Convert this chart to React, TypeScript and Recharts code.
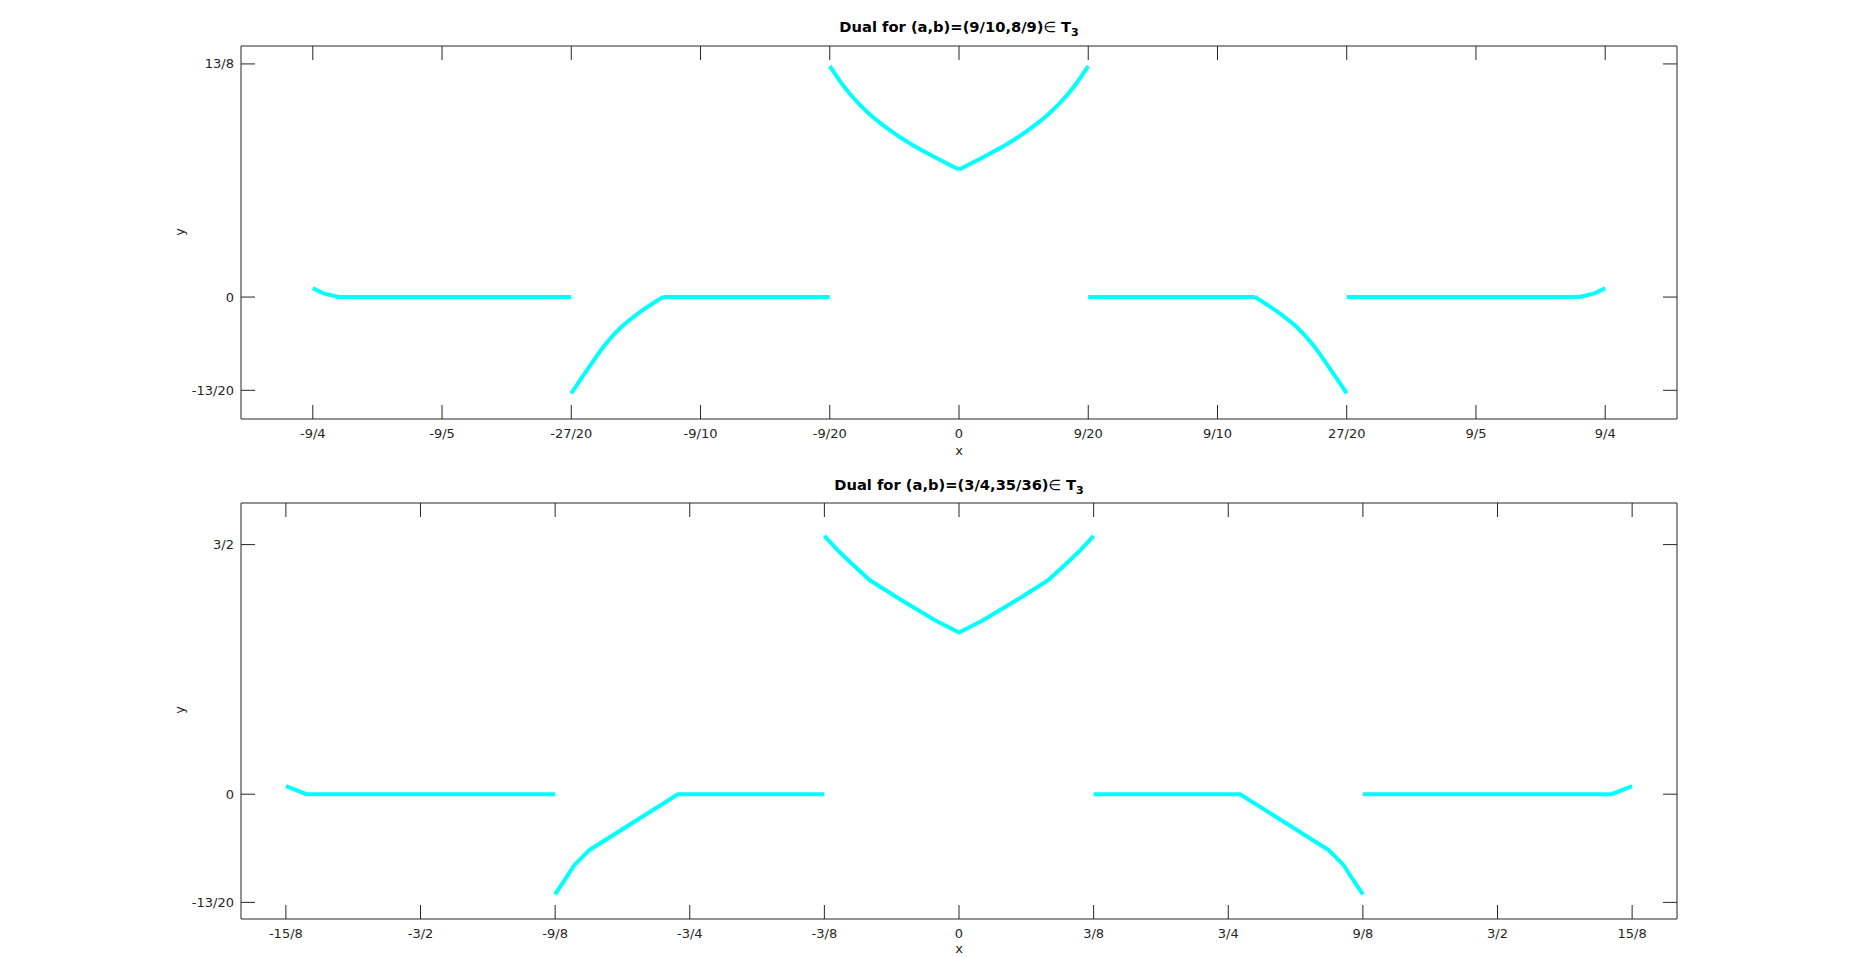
import { Line, LineChart, XAxis, YAxis } from "recharts";

const CYAN = "#00ffff";
const INK = "#262626";
const FONT = "'DejaVu Sans', sans-serif";
const TICK_LEN = 14;

type Pt = { x: number; y: number };
type Seg = { pts: Pt[]; curve: "linear" | "monotone" };

// ---- top panel: (a,b) = (9/10, 8/9) ----
const topTitle = "Dual for (a,b)=(9/10,8/9)";
const topXTicks = [-2.25, -1.8, -1.35, -0.9, -0.45, 0, 0.45, 0.9, 1.35, 1.8, 2.25];
const topXLabels = ["-9/4", "-9/5", "-27/20", "-9/10", "-9/20", "0", "9/20", "9/10", "27/20", "9/5", "9/4"];
const topYTicks = [-0.65, 0, 1.625];
const topYLabels = ["-13/20", "0", "13/8"];

const topOuterLeft: Pt[] = [
  { x: -2.25, y: 0.061 }, { x: -2.213, y: 0.026 }, { x: -2.16, y: 0 }, { x: -1.35, y: 0 },
];
const topCurveLeft: Pt[] = [
  { x: -1.35, y: -0.671 }, { x: -1.291, y: -0.497 }, { x: -1.233, y: -0.334 },
  { x: -1.175, y: -0.207 }, { x: -1.117, y: -0.114 }, { x: -1.03, y: 0 },
];
const topFlatLeft: Pt[] = [{ x: -1.03, y: 0 }, { x: -0.45, y: 0 }];
const topCenterLeft: Pt[] = [
  { x: -0.45, y: 1.61 }, { x: -0.407, y: 1.485 }, { x: -0.375, y: 1.405 }, { x: -0.317, y: 1.285 },
  { x: -0.247, y: 1.172 }, { x: -0.165, y: 1.063 }, { x: -0.084, y: 0.975 }, { x: 0, y: 0.889 },
];
const topCenterRight: Pt[] = [
  { x: 0, y: 0.889 }, { x: 0.084, y: 0.975 }, { x: 0.165, y: 1.063 }, { x: 0.247, y: 1.172 },
  { x: 0.317, y: 1.285 }, { x: 0.375, y: 1.405 }, { x: 0.407, y: 1.485 }, { x: 0.45, y: 1.61 },
];
const topFlatRight: Pt[] = [{ x: 0.45, y: 0 }, { x: 1.03, y: 0 }];
const topCurveRight: Pt[] = [
  { x: 1.03, y: 0 }, { x: 1.117, y: -0.114 }, { x: 1.175, y: -0.207 },
  { x: 1.233, y: -0.334 }, { x: 1.291, y: -0.497 }, { x: 1.35, y: -0.671 },
];
const topOuterRight: Pt[] = [
  { x: 1.35, y: 0 }, { x: 2.16, y: 0 }, { x: 2.213, y: 0.026 }, { x: 2.25, y: 0.061 },
];

// ---- bottom panel: (a,b) = (3/4, 35/36) ----
const botTitle = "Dual for (a,b)=(3/4,35/36)";
const botXTicks = [-1.875, -1.5, -1.125, -0.75, -0.375, 0, 0.375, 0.75, 1.125, 1.5, 1.875];
const botXLabels = ["-15/8", "-3/2", "-9/8", "-3/4", "-3/8", "0", "3/8", "3/4", "9/8", "3/2", "15/8"];
const botYTicks = [-0.65, 0, 1.5];
const botYLabels = ["-13/20", "0", "3/2"];

const botOuterLeft: Pt[] = [
  { x: -1.875, y: 0.049 }, { x: -1.818, y: 0 }, { x: -1.125, y: 0 },
];
const botInnerLeft: Pt[] = [
  { x: -1.125, y: -0.602 }, { x: -1.095, y: -0.505 }, { x: -1.071, y: -0.425 }, { x: -1.029, y: -0.335 },
  { x: -0.783, y: 0 }, { x: -0.375, y: 0 },
];
const botCenter: Pt[] = [
  { x: -0.375, y: 1.552 }, { x: -0.335, y: 1.46 }, { x: -0.3, y: 1.388 }, { x: -0.249, y: 1.287 },
  { x: -0.161, y: 1.167 }, { x: -0.068, y: 1.047 }, { x: 0, y: 0.972 }, { x: 0.068, y: 1.047 },
  { x: 0.161, y: 1.167 }, { x: 0.249, y: 1.287 }, { x: 0.3, y: 1.388 }, { x: 0.335, y: 1.46 },
  { x: 0.375, y: 1.552 },
];
const botInnerRight: Pt[] = [
  { x: 0.375, y: 0 }, { x: 0.783, y: 0 }, { x: 1.029, y: -0.335 },
  { x: 1.071, y: -0.425 }, { x: 1.095, y: -0.505 }, { x: 1.125, y: -0.602 },
];
const botOuterRight: Pt[] = [
  { x: 1.125, y: 0 }, { x: 1.818, y: 0 }, { x: 1.875, y: 0.049 },
];

type TickProps = { x?: number; y?: number; payload?: { value?: number } };

/** Octave-style ticks: the mark points into the plot box, the label sits outside. */
function makeTick(side: "bottom" | "top" | "left" | "right", ticks: number[], labels: string[]) {
  return function Tick(props: TickProps) {
    const { x = 0, y = 0, payload } = props;
    const label = labels[ticks.indexOf(payload?.value ?? NaN)] ?? "";
    if (side === "bottom")
      return (
        <g>
          <line x1={x} x2={x} y1={y} y2={y - TICK_LEN} stroke={INK} />
          <text x={x} y={y + 14} textAnchor="middle" dominantBaseline="central" fontSize={13} fill={INK} fontFamily={FONT}>
            {label}
          </text>
        </g>
      );
    if (side === "top") return <line x1={x} x2={x} y1={y} y2={y + TICK_LEN} stroke={INK} />;
    if (side === "left")
      return (
        <g>
          <line x1={x} x2={x + TICK_LEN} y1={y} y2={y} stroke={INK} />
          <text x={x - 7} y={y} textAnchor="end" dominantBaseline="central" fontSize={13} fill={INK} fontFamily={FONT}>
            {label}
          </text>
        </g>
      );
    return <line x1={x} x2={x - TICK_LEN} y1={y} y2={y} stroke={INK} />;
  };
}

interface PanelProps {
  top: number;
  height: number;
  marginTop: number;
  marginBottom: number;
  xDomain: [number, number];
  yDomain: [number, number];
  xTicks: number[];
  xLabels: string[];
  yTicks: number[];
  yLabels: string[];
  segments: Seg[];
}

function Panel(p: PanelProps) {
  const axisLine = { stroke: INK, strokeWidth: 1 };
  return (
    <div style={{ position: "absolute", left: 0, top: p.top }}>
      <LineChart
        width={1855}
        height={p.height}
        margin={{ top: p.marginTop - 1, right: 177, bottom: p.marginBottom, left: 181 }}
      >
        <XAxis
          xAxisId="bottom"
          type="number"
          dataKey="x"
          domain={p.xDomain}
          ticks={p.xTicks}
          interval={0}
          allowDataOverflow
          height={30}
          tickSize={0}
          tickMargin={0}
          tickLine={false}
          axisLine={axisLine}
          tick={makeTick("bottom", p.xTicks, p.xLabels)}
        />
        <XAxis
          xAxisId="top"
          orientation="top"
          type="number"
          dataKey="x"
          domain={p.xDomain}
          ticks={p.xTicks}
          interval={0}
          allowDataOverflow
          height={1}
          tickSize={0}
          tickMargin={0}
          tickLine={false}
          axisLine={axisLine}
          tick={makeTick("top", p.xTicks, p.xLabels)}
        />
        <YAxis
          yAxisId="left"
          type="number"
          domain={p.yDomain}
          ticks={p.yTicks}
          interval={0}
          allowDataOverflow
          width={60}
          tickSize={0}
          tickMargin={0}
          tickLine={false}
          axisLine={axisLine}
          tick={makeTick("left", p.yTicks, p.yLabels)}
        />
        <YAxis
          yAxisId="right"
          orientation="right"
          type="number"
          domain={p.yDomain}
          ticks={p.yTicks}
          interval={0}
          allowDataOverflow
          width={1}
          tickSize={0}
          tickMargin={0}
          tickLine={false}
          axisLine={axisLine}
          tick={makeTick("right", p.yTicks, p.yLabels)}
        />
        {/* invisible series that ties the mirrored top/right axes to the chart */}
        <Line
          xAxisId="top"
          yAxisId="right"
          data={p.segments[0].pts}
          dataKey="y"
          stroke="none"
          dot={false}
          activeDot={false}
          isAnimationActive={false}
        />
        {p.segments.map((seg, i) => (
          <Line
            key={i}
            xAxisId="bottom"
            yAxisId="left"
            data={seg.pts}
            dataKey="y"
            type={seg.curve}
            stroke={CYAN}
            strokeWidth={4}
            dot={false}
            activeDot={false}
            isAnimationActive={false}
          />
        ))}
      </LineChart>
    </div>
  );
}

function Title({ text, centerY }: { text: string; centerY: number }) {
  return (
    <div
      style={{
        position: "absolute",
        left: 241,
        width: 1436,
        top: centerY - 9,
        lineHeight: "18px",
        textAlign: "center",
        fontFamily: FONT,
        fontWeight: 700,
        fontSize: 14.7,
        color: "#000",
        whiteSpace: "nowrap",
      }}
    >
      {text}
      <span style={{ fontWeight: 400 }}>∈ </span>T
      <sub style={{ fontSize: 11, lineHeight: 0 }}>3</sub>
    </div>
  );
}

function AxisName({ text, cx, cy, rotate }: { text: string; cx: number; cy: number; rotate?: boolean }) {
  return (
    <div
      style={{
        position: "absolute",
        left: cx - 20,
        top: cy - 9,
        width: 40,
        lineHeight: "18px",
        textAlign: "center",
        fontFamily: FONT,
        fontSize: 13,
        color: INK,
        transform: rotate ? "rotate(-90deg)" : undefined,
      }}
    >
      {text}
    </div>
  );
}

export default function App() {
  return (
    <div style={{ position: "absolute", left: 0, top: 0, width: 1855, height: 958, background: "#fff" }}>
      <Panel
        top={0}
        height={470}
        marginTop={46}
        marginBottom={21}
        xDomain={[-2.5, 2.5]}
        yDomain={[-0.85, 1.75]}
        xTicks={topXTicks}
        xLabels={topXLabels}
        yTicks={topYTicks}
        yLabels={topYLabels}
        segments={[
          { pts: topOuterLeft, curve: "linear" },
          { pts: topCurveLeft, curve: "monotone" },
          { pts: topFlatLeft, curve: "linear" },
          { pts: topCenterLeft, curve: "monotone" },
          { pts: topCenterRight, curve: "monotone" },
          { pts: topFlatRight, curve: "linear" },
          { pts: topCurveRight, curve: "monotone" },
          { pts: topOuterRight, curve: "linear" },
        ]}
      />
      <Panel
        top={470}
        height={488}
        marginTop={33}
        marginBottom={9}
        xDomain={[-2, 2]}
        yDomain={[-0.75, 1.75]}
        xTicks={botXTicks}
        xLabels={botXLabels}
        yTicks={botYTicks}
        yLabels={botYLabels}
        segments={[
          { pts: botOuterLeft, curve: "linear" },
          { pts: botInnerLeft, curve: "linear" },
          { pts: botCenter, curve: "linear" },
          { pts: botInnerRight, curve: "linear" },
          { pts: botOuterRight, curve: "linear" },
        ]}
      />
      <Title text={topTitle} centerY={27} />
      <Title text={botTitle} centerY={485} />
      <AxisName text="x" cx={959} cy={451} />
      <AxisName text="y" cx={180} cy={232} rotate />
      <AxisName text="x" cx={959} cy={949} />
      <AxisName text="y" cx={180} cy={710} rotate />
    </div>
  );
}
